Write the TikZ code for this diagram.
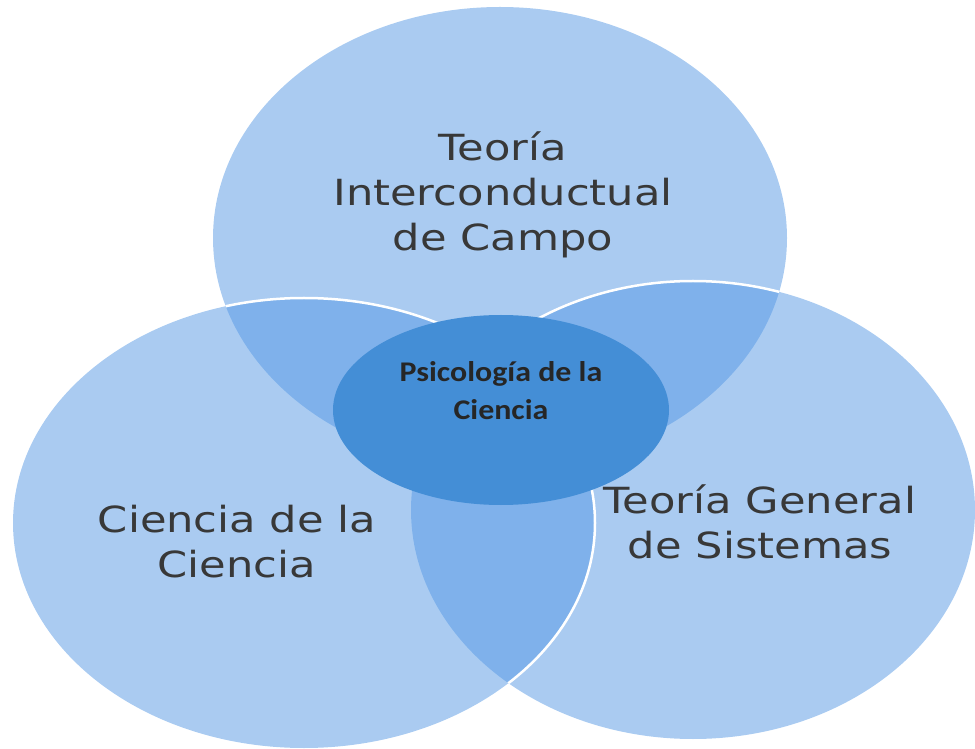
\documentclass[tikz,border=0pt]{standalone}
\usepackage{fontspec}
\setmainfont{DejaVu Sans}[FakeStretch=1.2]
\newfontfamily\corefont{Carlito}[FakeStretch=1.12]
\definecolor{vennblue}{RGB}{85,152,228}
\definecolor{coreblue}{RGB}{68,142,214}
\definecolor{labelgray}{RGB}{56,56,56}
\definecolor{coretext}{RGB}{38,38,38}
\begin{document}
\begin{tikzpicture}[x=1pt,y=1pt,
	circlefill/.style={fill=vennblue, fill opacity=0.5},
	rimline/.style={draw=white, line width=2.5pt},
	biglabel/.style={text=labelgray, align=center, font=\fontsize{36}{45}\selectfont},
	corelabel/.style={text=coretext, align=center, font=\corefont\bfseries\fontsize{28.5}{38}\selectfont}]
	\useasboundingbox (0,0) rectangle (975,748);
	\coordinate[](ctop) at (500,510);
	\coordinate[](cleft) at (304,225);
	\coordinate[](cright) at (693,238);
	\coordinate[](ccore) at (501,338);
	
	% the three circles
	\fill[circlefill](ctop) ellipse [x radius=287, y radius=231];
	\fill[circlefill](cright) ellipse [x radius=282, y radius=229];
	\fill[circlefill](cleft) ellipse [x radius=291, y radius=225];
	
	% white rims where circles cross
	\begin{scope}
		\clip (ctop) ellipse [x radius=287, y radius=231];
		\draw[rimline](cleft) ellipse [x radius=291, y radius=225];
		\draw[rimline](cright) ellipse [x radius=282, y radius=229];
	\end{scope}
	\begin{scope}
		\clip (cright) ellipse [x radius=282, y radius=229];
		\draw[rimline](cleft) ellipse [x radius=291, y radius=225];
	\end{scope}
	
	% centre
	\fill[coreblue](ccore) ellipse [x radius=168, y radius=95];
	
	\node[biglabel](toplabel) at (503,553) {Teoría\\Interconductual\\de Campo};
	\node[biglabel](leftlabel) at (237,206) {Ciencia de la\\Ciencia};
	\node[biglabel](rightlabel) at (760,226) {Teoría General\\de Sistemas};
	\node[corelabel](corelabel) at (ccore) [yshift=19] {Psicología de la\\Ciencia};
\end{tikzpicture}
\end{document}
